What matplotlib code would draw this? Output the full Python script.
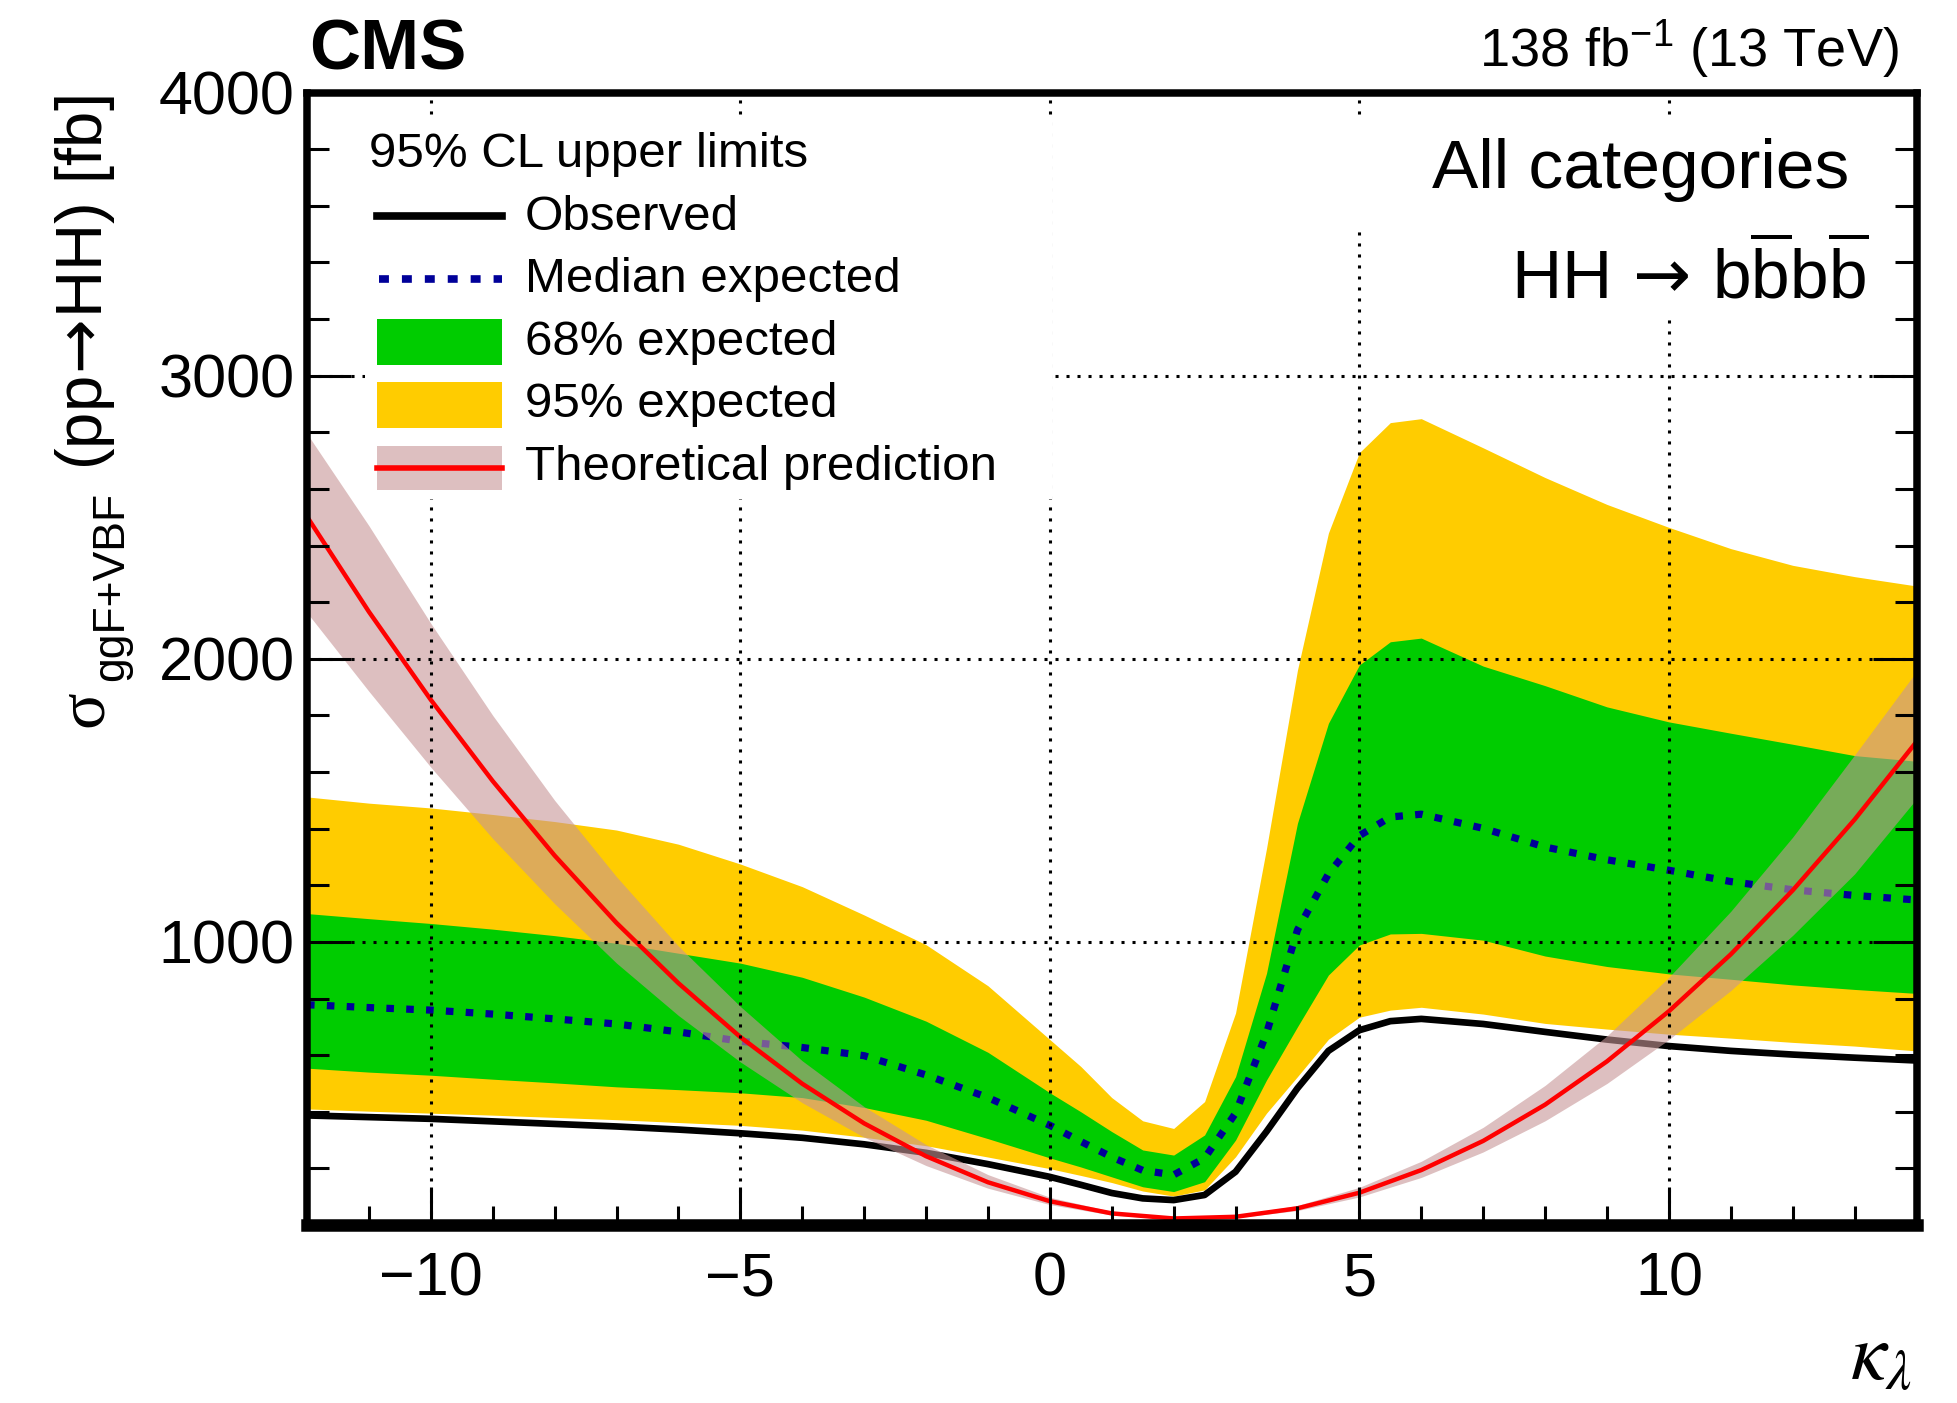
import matplotlib
matplotlib.use("Agg")

import matplotlib.pyplot as plt
from matplotlib.lines import Line2D
from matplotlib.patches import Rectangle
from matplotlib.ticker import FixedLocator, MultipleLocator, FuncFormatter

# ---------- data ----------
kl = [-12, -11, -10, -9, -8, -7, -6, -5, -4, -3, -2, -1, 0, 0.5, 1, 1.5, 2, 2.5,
      3, 3.5, 4, 4.5, 5, 5.5, 6, 7, 8, 9, 10, 11, 12, 13, 14]

observed = [387, 381, 375, 366, 357, 348, 337, 324, 308, 285, 255, 215, 170, 142,
            113, 94, 88, 106, 188, 330, 483, 615, 688, 720, 728, 710, 682, 655,
            632, 615, 602, 591, 581]
expected = [778, 768, 759, 745, 728, 710, 682, 649, 627, 598, 530, 450, 352, 295,
            240, 193, 177, 236, 395, 677, 1042, 1240, 1375, 1441, 1451, 1401, 1335,
            1290, 1253, 1213, 1184, 1164, 1148]
band68_up = [1100, 1082, 1065, 1045, 1022, 995, 960, 925, 875, 805, 720, 610, 467,
             400, 330, 265, 247, 318, 524, 889, 1419, 1772, 1978, 2060, 2073, 1974,
             1905, 1830, 1777, 1737, 1698, 1658, 1638]
band68_dn = [554, 540, 529, 515, 502, 488, 478, 467, 450, 415, 370, 305, 237, 205,
             170, 135, 118, 153, 300, 512, 700, 883, 989, 1028, 1030, 1006, 950, 913,
             887, 868, 848, 832, 818]
band95_up = [1512, 1490, 1473, 1450, 1425, 1395, 1345, 1275, 1195, 1095, 990, 845,
             655, 560, 450, 368, 341, 436, 749, 1330, 1960, 2444, 2728, 2834, 2848,
             2745, 2640, 2545, 2464, 2389, 2330, 2290, 2257]
band95_dn = [410, 402, 395, 388, 380, 372, 362, 352, 335, 310, 280, 240, 199, 175,
             150, 120, 102, 124, 241, 395, 524, 656, 734, 759, 769, 745, 712, 692,
             674, 660, 645, 632, 615]

theo_kl = [-12, -11, -10, -9, -8, -7, -6, -5, -4, -3, -2, -1, 0, 1, 2, 3, 4, 5, 6,
           7, 8, 9, 10, 11, 12, 13, 14]
theo = [2502, 2166, 1855, 1568, 1305, 1067, 854, 664, 499, 359, 243, 151, 84, 41,
        23, 29, 59, 114, 194, 297, 425, 578, 755, 956, 1182, 1432, 1707]
theo_up = [2795, 2470, 2125, 1800, 1500, 1230, 985, 772, 580, 418, 284, 178, 98,
           48, 27, 34, 69, 133, 225, 345, 493, 668, 875, 1108, 1370, 1660, 1955]
theo_dn = [2163, 1885, 1617, 1365, 1135, 925, 740, 576, 432, 310, 210, 130, 72, 35,
           20, 25, 51, 99, 168, 258, 368, 500, 655, 828, 1023, 1240, 1505]

x_grid = [-10, -5, 0, 5, 10]
y_major = [1000, 2000, 3000, 4000]

# ---------- style ----------
YELLOW = "#FFCC00"
GREEN = "#00CC00"
BLUE = "#000099"
RED = "#FF0000"
THEO_BAND = (0.78, 0.584, 0.59)

W, H = 1957, 1403

plt.rcParams.update({
    "font.family": ["Liberation Sans", "DejaVu Sans"],
    "mathtext.fontset": "custom",
    "mathtext.rm": "Liberation Sans",
    "mathtext.it": "Liberation Sans:italic",
    "mathtext.bf": "Liberation Sans:bold",
    "mathtext.sf": "DejaVu Sans",   # only used for the long arrows
})

ARROW = r"$\!\mathsf{\rightarrow}\!$"   # long arrow, no extra relation spacing


def fx(px):
    return px / W


def fy(py):
    return 1 - py / H


fig = plt.figure(figsize=(W / 100, H / 100), dpi=100)
ax = fig.add_axes([fx(307), fy(1225), fx(1916.5) - fx(307), (1225 - 92.5) / H])
ax.set_xlim(-12, 14)
ax.set_ylim(0, 4000)

# ---------- bands and lines ----------
ax.fill_between(kl, band95_dn, band95_up, color=YELLOW, lw=0, zorder=1)
ax.fill_between(kl, band68_dn, band68_up, color=GREEN, lw=0, zorder=1.1)
ax.plot(kl, observed, color="black", lw=4.8, zorder=2)
ax.plot(kl, expected, color=BLUE, lw=5.2, dashes=(1.05, 1.7),
        dash_capstyle="butt", zorder=2.1)
ax.fill_between(theo_kl, theo_dn, theo_up, color=THEO_BAND, alpha=0.6, lw=0,
                zorder=2.5)
ax.plot(theo_kl, theo, color=RED, lw=3.2, zorder=2.6)

# ---------- axes, ticks, grid ----------
ax.xaxis.set_major_locator(FixedLocator(x_grid))
ax.xaxis.set_minor_locator(MultipleLocator(1))
ax.yaxis.set_major_locator(FixedLocator(y_major))
ax.yaxis.set_minor_locator(MultipleLocator(200))
ax.yaxis.set_major_formatter(FuncFormatter(lambda v, p: f"{v:.0f}"))

ax.grid(True, which="major", color="black", lw=2.2, linestyle=(0, (1, 2.6)))
ax.xaxis.set_zorder(4)
ax.yaxis.set_zorder(4)

ax.tick_params(which="both", direction="in", top=False, right=True,
               bottom=True, left=True, width=2.2, color="black")
ax.tick_params(axis="y", which="major", length=31.5, pad=9, labelsize=44)
ax.tick_params(axis="y", which="minor", length=15.7)
ax.tick_params(axis="x", which="major", length=27.4, pad=19, labelsize=44)
ax.tick_params(axis="x", which="minor", length=13.9)

for name, s in ax.spines.items():
    s.set_linewidth(9 if name == "bottom" else 5.4)
    s.set_zorder(10)

# ---------- white boxes behind legend / text (hide grid) ----------
for x0, y0, x1, y1 in [(365, 117, 1052, 499), (1345, 117, 1888, 232),
                       (1500, 232, 1888, 315)]:
    ax.add_artist(Rectangle((fx(x0), fy(y1)), fx(x1) - fx(x0), (y1 - y0) / H,
                            transform=fig.transFigure, fc="white", ec="none",
                            zorder=5))

# ---------- legend ----------
ax.text(fx(369), fy(167), "95% CL upper limits", fontsize=35.5,
        transform=fig.transFigure, va="baseline", zorder=7)

labels = ["Observed", "Median expected", "68% expected", "95% expected",
          "Theoretical prediction"]
baselines = [230, 292.5, 355, 417.5, 480]
for lab, b in zip(labels, baselines):
    ax.text(fx(525), fy(b), lab, fontsize=35.5, transform=fig.transFigure,
            va="baseline", zorder=7)

sx0, sx1 = fx(377), fx(502)
ax.add_artist(Line2D([sx0, sx1], [fy(216), fy(216)], color="black", lw=5.5,
                     transform=fig.transFigure, zorder=6))
ax.add_artist(Line2D([sx0 + fx(2), sx1], [fy(279), fy(279)], color=BLUE, lw=5.5,
                     dashes=(1.3, 1.7), dash_capstyle="butt",
                     transform=fig.transFigure, zorder=6))
ax.add_artist(Rectangle((sx0, fy(365)), sx1 - sx0, 46 / H, fc=GREEN, ec="none",
                        transform=fig.transFigure, zorder=6))
ax.add_artist(Rectangle((sx0, fy(428)), sx1 - sx0, 46 / H, fc=YELLOW, ec="none",
                        transform=fig.transFigure, zorder=6))
ax.add_artist(Rectangle((sx0, fy(490)), sx1 - sx0, 44 / H, fc=THEO_BAND,
                        alpha=0.6, ec="none", transform=fig.transFigure, zorder=6))
ax.add_artist(Line2D([sx0, sx1], [fy(468), fy(468)], color=RED, lw=4,
                     transform=fig.transFigure, zorder=6.1))

# ---------- text inside the frame ----------
ax.text(fx(1849), fy(188), "All categories", fontsize=50, ha="right",
        va="baseline", transform=fig.transFigure, zorder=7)
ax.text(fx(1869), fy(298),
        r"HH " + ARROW + r" b$\overline{\mathrm{b}}$b$\overline{\mathrm{b}}$",
        fontsize=50, ha="right", va="baseline", transform=fig.transFigure,
        zorder=7)

# ---------- labels around the frame ----------
fig.text(fx(309), fy(69), "CMS", fontsize=51, fontweight="bold",
         ha="left", va="baseline")
fig.text(fx(1899), fy(67), r"138 fb$^{\mathrm{-1}}$ (13 TeV)", fontsize=39,
         ha="right", va="baseline")

rot = dict(rotation=90, rotation_mode="anchor", ha="left", va="baseline")
fig.text(fx(102), fy(727), "σ", family="Liberation Serif", fontsize=49, **rot)
fig.text(fx(123), fy(681), "ggF+VBF", fontsize=32, **rot)
fig.text(fx(102), fy(470), "(pp" + ARROW + "HH) [fb]", fontsize=47, **rot)

fig.text(fx(1912), fy(1380), r"$\kappa_{\lambda}$", math_fontfamily="stix",
         fontsize=58, ha="right", va="baseline")

fig.savefig("out.png", dpi=100)
